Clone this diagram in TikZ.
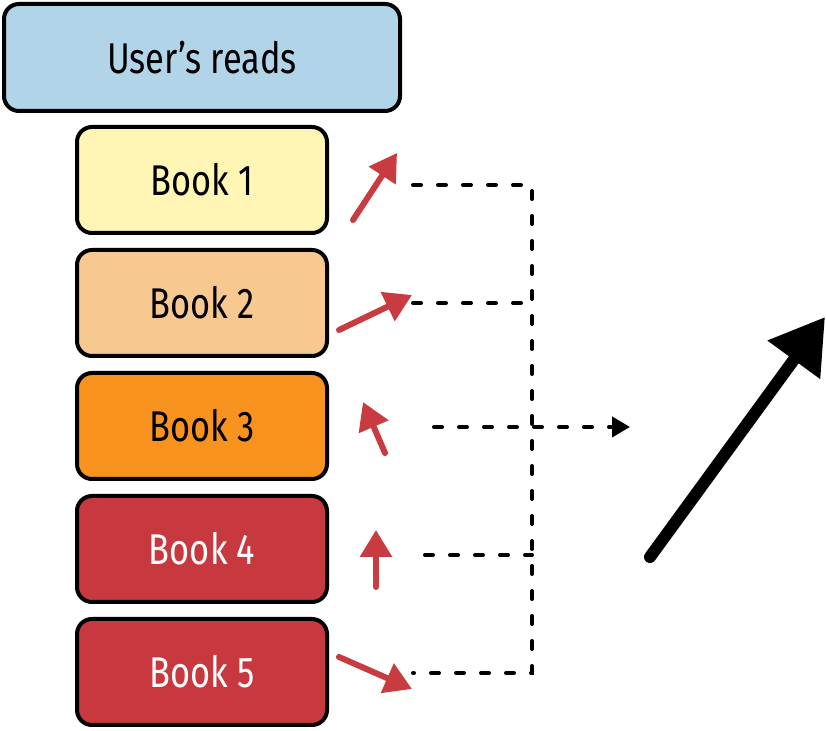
\documentclass[tikz,border=0pt]{standalone}
\usepackage{fontspec}
\setsansfont{Fira Sans}[FakeStretch=0.8]
\usepackage{tikz}
\usetikzlibrary{positioning}
\usetikzlibrary{arrows.meta}
\definecolor{readsblue}{HTML}{B1D4E8}
\definecolor{bookyellow}{HTML}{FFF5B4}
\definecolor{booktan}{HTML}{F8C891}
\definecolor{bookorange}{HTML}{F7931E}
\definecolor{bookred}{HTML}{C8393F}
\definecolor{arrowred}{HTML}{C83C41}
\tikzset{
    node distance=6.5pt, % Gap between two stacked boxes
    every box/.style={ % Sets the properties for each box
        draw=black,
        line width=2pt,
        rounded corners=7.5pt,
        font=\sffamily\fontsize{21.5}{25}\selectfont,
        minimum width=125pt,
        minimum height=53pt
    },
    readsbox/.style={
        every box,
        fill=readsblue,
        minimum width=198pt,
        minimum height=53.5pt
    },
    bookbox/.style={
        every box,
        fill=#1
    },
    trend/.style={ % Small red arrows next to the books
        draw=arrowred,
        line width=3pt,
        line cap=round,
        -{Triangle[length=13.5pt,width=15.5pt]}
    },
    link/.style={ % Dashed connectors
        draw,
        line width=2pt,
        line cap=round,
        dash pattern=on 4pt off 8.5pt
    }
}

\begin{document}
\begin{tikzpicture}[x=0.5pt,y=-0.5pt]
            \useasboundingbox (0,0) rectangle (826,731);

            \node[readsbox] (reads) at (202,57.5) {User’s reads};
            \node[bookbox=bookyellow, below=6pt of reads] (b1) {Book 1};
            \node[bookbox=booktan, below=of b1] (b2) {Book 2};
            \node[bookbox=bookorange, below=of b2] (b3) {Book 3};
            \node[bookbox=bookred, text=white, below=of b3] (b4) {Book 4};
            \node[bookbox=bookred, text=white, below=of b4] (b5) {Book 5};

            % red arrows
            \coordinate (t1) at (353,220);  \coordinate (h1) at (397,153);
            \coordinate (t2) at (339,330);  \coordinate (h2) at (412,295);
            \coordinate (t3) at (385,453);  \coordinate (h3) at (363,402);
            \coordinate (t4) at (376,587);  \coordinate (h4) at (376,530);
            \coordinate (t5) at (339,657);  \coordinate (h5) at (412,689);

            \draw[trend] (t1) -- (h1);
            \draw[trend] (t2) -- (h2);
            \draw[trend] (t3) -- (h3);
            \draw[trend] (t4) -- (h4);
            \draw[trend] (t5) -- (h5);

            % dashed connectors
            \coordinate (d1) at (413,185);
            \coordinate (d2) at (413,303);
            \coordinate (d3) at (434,427);
            \coordinate (d4) at (425,555);
            \coordinate (d5) at (413,673);
            \coordinate (sum) at (630,427);

            \draw[link] (d1) -- (532,185) -- (532,673) -- (d5);
            \draw[link] (d2) -- (532,303);
            \draw[link] (d4) -- (532,555);
            \draw[link, -{Triangle[length=9pt,width=10pt]}] (d3) -- (sum);

            % overall trend
            \coordinate (up0) at (650,557);
            \coordinate (up1) at (825,317);
            \draw[line width=6pt, line cap=round, -{Triangle[length=26.5pt,width=31pt]}] (up0) -- (up1);

        \end{tikzpicture}
\end{document}
